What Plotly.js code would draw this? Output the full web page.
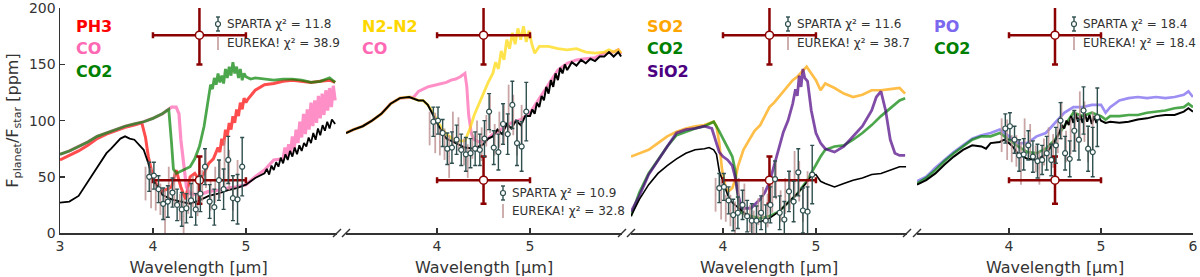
<!DOCTYPE html>
<html><head><meta charset="utf-8">
<script src="https://cdn.plot.ly/plotly-3.0.1.min.js"></script>
<style>html,body{margin:0;padding:0;background:#fff}#chart{width:1200px;height:277px}</style>
</head><body><div id="chart"></div>
<script>
// ---------- Panel 1 (PH3 / CO / CO2) ----------
const p1BlackX = [3.00,3.10,3.20,3.30,3.40,3.50,3.55,3.60,3.65,3.70,3.75,3.80,3.85,3.90,3.95,4.00,4.05,4.10,4.20,4.30,4.40,4.50,4.60,4.70,4.80,4.90,5.00,5.10,5.20,5.225,5.25,5.275,5.30,5.325,5.35,5.375,5.40,5.425,5.45,5.475,5.50,5.525,5.55,5.575,5.60,5.625,5.65,5.675,5.70,5.725,5.75,5.775,5.80,5.825,5.85,5.875,5.90,5.925,5.96];
const p1BlackY = [27,28,33,46,59,71,75,80,84,86,84,83,78,74,62,47,41,34,30,28,26,29,33,35,38,40,43,49,53,57,52,60,56,63,59,67,62,70,65,73,68,76,70,78,73,80,77,85,80,89,83,93,87,96,91,99,93,101,97];
const p1RedX = [3.00,3.10,3.20,3.30,3.40,3.50,3.60,3.70,3.80,3.88,3.92,3.95,4.00,4.05,4.10,4.15,4.20,4.25,4.30,4.35,4.40,4.45,4.50,4.55,4.60,4.65,4.70,4.72,4.74,4.76,4.78,4.80,4.82,4.84,4.86,4.88,4.90,4.92,4.94,4.96,4.98,5.00,5.02,5.10,5.20,5.30,5.40,5.50,5.60,5.70,5.80,5.90,5.96];
const p1RedY = [65,69,73,78,84,88,91,94,96,98,85,68,50,41,37,39,41,56,41,30,50,53,47,53,62,66,76,72,84,78,92,86,98,92,104,98,110,104,116,110,120,116,119,127,132,133,135,136,135,134,135,136,134];
const p1PinkX = [3.00,3.10,3.20,3.30,3.40,3.50,3.60,3.70,3.80,3.90,4.00,4.05,4.10,4.15,4.20,4.25,4.28,4.30,4.33,4.36,4.40,4.50,4.60,4.70,4.80,4.90,5.00,5.10,5.20,5.30,5.40,5.42,5.44,5.46,5.48,5.50,5.52,5.54,5.56,5.58,5.60,5.62,5.64,5.66,5.68,5.70,5.72,5.74,5.76,5.78,5.80,5.82,5.84,5.86,5.88,5.90,5.92,5.94,5.96];
const p1PinkY = [70,73,77,81,86,89,92,95,97,99,102,104,106,109,112,112,106,83,59,41,35,34,37,38,40,41,43,50,56,65,66,76,68,79,71,86,75,92,80,99,85,106,88,110,92,116,95,118,98,122,102,124,105,127,109,129,112,131,118];
const p1GreenX = [3.00,3.10,3.20,3.30,3.40,3.50,3.60,3.70,3.80,3.90,4.00,4.05,4.10,4.15,4.17,4.20,4.22,4.25,4.30,4.35,4.40,4.45,4.50,4.55,4.60,4.62,4.64,4.66,4.68,4.70,4.72,4.74,4.76,4.78,4.80,4.82,4.84,4.86,4.88,4.90,4.92,4.94,4.96,4.98,5.00,5.05,5.10,5.20,5.30,5.40,5.50,5.60,5.70,5.80,5.90,5.96];
const p1GreenY = [70,73,77,81,86,89,92,95,97,99,102,104,106,109,110,80,57,53,55,57,59,66,77,95,123,132,128,138,132,142,134,140,133,146,138,148,140,152,142,148,138,146,136,142,139,137,138,137,136,137,137,136,134,135,138,134];

// ---------- Panel 2 (N2-N2 / CO) ----------
const p2BlackX = [3.02,3.10,3.20,3.30,3.40,3.50,3.60,3.70,3.80,3.85,3.90,3.95,4.00,4.05,4.10,4.20,4.30,4.40,4.50,4.55,4.60,4.65,4.70,4.75,4.80,4.85,4.90,4.95,5.00,5.025,5.05,5.075,5.10,5.125,5.15,5.175,5.20,5.225,5.25,5.275,5.30,5.325,5.35,5.375,5.40,5.45,5.50,5.55,5.60,5.65,5.70,5.75,5.80,5.85,5.90,5.95,5.98];
const p2BlackY = [89,92,95,100,106,115,120,121,118,118,114,106,97,90,84,80,76,75,79,84,86,92,88,97,93,100,96,104,104,110,106,116,112,122,118,130,124,136,130,142,136,147,142,150,145,152,149,154,151,155,153,157,157,161,157,161,157];
const p2YellowX = [3.02,3.10,3.20,3.30,3.40,3.50,3.60,3.70,3.80,3.85,3.90,3.95,4.00,4.05,4.10,4.20,4.30,4.35,4.40,4.45,4.50,4.55,4.60,4.63,4.66,4.69,4.72,4.75,4.78,4.81,4.84,4.87,4.90,4.93,4.96,4.99,5.02,5.05,5.10,5.20,5.30,5.40,5.50,5.60,5.70,5.80,5.85,5.90,5.95,5.98];
const p2YellowY = [89,92,95,100,106,115,120,121,118,118,114,108,100,93,88,82,82,92,105,115,125,134,142,152,146,162,154,172,164,178,168,182,172,184,170,180,168,160,166,166,164,163,164,161,160,161,163,161,163,160];
const p2PinkX = [3.02,3.10,3.20,3.30,3.40,3.50,3.60,3.70,3.75,3.80,3.85,3.90,3.95,4.00,4.05,4.10,4.15,4.20,4.25,4.30,4.32,4.34,4.37,4.40,4.45,4.50,4.55,4.60,4.65,4.70,4.80,4.90,5.00,5.10,5.20,5.30,5.40,5.50,5.60,5.70,5.80,5.90,5.95,5.98];
const p2PinkY = [89,92,95,100,106,115,120,121,121,126,128,130,131,132,133,134,136,137,139,142,130,105,88,83,81,82,84,88,90,93,98,101,107,120,133,145,151,154,155,156,160,161,163,159];

// ---------- Panel 3 (SO2 / CO2 / SiO2) ----------
const p3BlackX = [3.01,3.10,3.20,3.30,3.40,3.50,3.60,3.70,3.80,3.85,3.90,3.93,3.96,4.00,4.05,4.10,4.20,4.30,4.40,4.50,4.60,4.70,4.80,4.90,4.95,5.00,5.05,5.10,5.20,5.30,5.40,5.50,5.60,5.70,5.80,5.90,5.97];
const p3BlackY = [15,30,43,53,60,66,71,74,75,76,74,70,55,45,34,27,20,13,10,13,19,27,35,45,51,52,46,44,41,44,47,49,52,53,56,59,59];
const p3OrangeX = [3.01,3.10,3.20,3.30,3.40,3.50,3.60,3.70,3.80,3.90,3.93,3.96,3.99,4.03,4.06,4.10,4.13,4.16,4.22,4.29,4.34,4.40,4.50,4.55,4.60,4.65,4.70,4.75,4.80,4.85,4.90,4.95,5.00,5.05,5.10,5.20,5.30,5.40,5.50,5.60,5.70,5.80,5.90,5.96];
const p3OrangeY = [68,71,74,80,86,90,93,95,96,99,95,80,56,40,37,40,47,59,74,84,91,96,112,116,121,126,130,136,139,144,148,142,136,127,133,129,124,121,123,127,127,128,129,124];
const p3GreenX = [3.01,3.10,3.20,3.30,3.40,3.50,3.60,3.70,3.80,3.90,3.95,4.00,4.05,4.10,4.13,4.16,4.20,4.30,4.40,4.50,4.60,4.70,4.80,4.90,5.00,5.05,5.10,5.20,5.30,5.40,5.50,5.60,5.70,5.80,5.90,5.96];
const p3GreenY = [15,36,53,65,77,87,90,93,95,99,92,84,76,68,56,32,18,15,13,15,19,27,35,46,61,68,74,77,78,83,89,96,104,111,118,120];
const p3PurpleX = [3.01,3.10,3.20,3.30,3.40,3.50,3.60,3.70,3.80,3.88,3.92,3.96,4.00,4.05,4.10,4.13,4.16,4.20,4.30,4.40,4.45,4.50,4.55,4.60,4.65,4.70,4.75,4.78,4.80,4.82,4.84,4.86,4.88,4.91,4.95,5.00,5.05,5.10,5.20,5.30,5.40,5.50,5.60,5.65,5.70,5.75,5.80,5.85,5.90,5.96];
const p3PurpleY = [19,33,52,65,77,89,92,93,95,93,82,72,68,65,60,50,35,22,22,30,36,45,60,76,90,100,115,128,122,140,130,146,138,135,109,89,80,75,72,77,86,95,109,121,126,109,83,71,69,69];

// ---------- Panel 4 (PO / CO2) ----------
const p4BlackX = [3.00,3.10,3.20,3.30,3.40,3.50,3.60,3.70,3.75,3.80,3.90,3.95,4.00,4.05,4.10,4.20,4.30,4.40,4.50,4.55,4.575,4.60,4.625,4.65,4.675,4.70,4.725,4.75,4.775,4.80,4.825,4.85,4.875,4.90,4.925,4.95,4.975,5.00,5.05,5.10,5.20,5.30,5.40,5.50,5.60,5.70,5.80,5.90,5.95,6.00];
const p4BlackY = [43,47,53,61,68,74,78,77,75,80,81,83,80,76,70,66,65,70,82,90,96,93,100,96,104,98,106,99,105,98,106,99,105,97,104,98,103,100,98,99,98,99,101,102,104,105,105,108,111,108];
const p4PurpleX = [3.00,3.10,3.20,3.30,3.40,3.50,3.60,3.70,3.80,3.90,4.00,4.10,4.20,4.30,4.40,4.50,4.60,4.70,4.80,4.90,5.00,5.05,5.10,5.20,5.30,5.40,5.50,5.60,5.70,5.80,5.90,5.95,6.00];
const p4PurpleY = [46,50,58,65,72,78,84,87,89,92,86,80,80,86,89,98,107,112,112,114,114,107,112,118,120,121,120,121,120,121,123,126,121];
const p4GreenX = [3.00,3.10,3.20,3.30,3.40,3.50,3.60,3.70,3.80,3.90,4.00,4.10,4.20,4.30,4.40,4.50,4.60,4.70,4.80,4.90,5.00,5.05,5.10,5.20,5.30,5.40,5.50,5.60,5.70,5.80,5.90,5.95,6.00];
const p4GreenY = [44,49,56,64,71,77,83,86,86,89,83,77,72,71,75,83,95,107,104,107,104,101,104,104,105,105,107,108,109,111,112,115,112];

// ---------- Observations (SPARTA / EUREKA!) per panel ----------
const spartaX = [3.96,4.01,4.06,4.11,4.16,4.21,4.26,4.31,4.36,4.41,4.46,4.51,4.56,4.61,4.66,4.71,4.76,4.81,4.86,4.91,4.96];
const spartaErr = [13,12,12,14,14,13,14,15,13,15,14,16,16,15,16,18,18,21,20,22,26];
const spartaY1 = [50,51,39,26,28,36,25,21,22,29,21,35,59,28,23,47,39,65,31,30,59];
const spartaY2 = [99,100,89,75,76,83,74,70,71,75,74,84,108,76,72,97,88,114,80,77,108];
const spartaY3 = [40,41,29,16,18,25,15,11,11,18,11,25,48,18,12,37,28,54,20,19,52];
const spartaY4 = [93,95,83,69,70,78,68,64,65,71,65,78,100,71,66,91,83,109,75,72,103];

const eurekaX = [3.92,3.98,4.03,4.08,4.13,4.17,4.23,4.29,4.33,4.38,4.43,4.48,4.53,4.57,4.62,4.67,4.72,4.77,4.82,4.86,4.91];
const eurekaErr = [15,18,12,14,19,15,15,12,15,12,14,15,14,17,14,16,17,21,18,15,18];
const eurekaY1 = [44,40,32,30,19,44,39,23,15,29,37,30,42,57,34,43,48,62,56,35,47];
const eurekaY2 = [93,89,81,79,68,93,88,72,64,78,86,79,91,106,83,92,97,111,105,84,96];
const eurekaY3 = [34,30,22,20,9,34,29,13,5,19,27,20,32,47,24,33,38,52,46,25,37];
const eurekaY4 = [87,83,75,73,62,87,82,66,58,72,80,73,85,100,77,86,91,105,99,78,90];

// big reference crosses (same in every panel)
const crossX = [4.5, 4.5];
const crossY = [176, 47];
const crossXErr = [0.5, 0.5];
const crossYErr = [26, 21];

const chiSparta = [11.8, 10.9, 11.6, 18.4];
const chiEureka = [38.9, 32.8, 38.7, 18.4];

const speciesLabels = [
  [["PH3","red"],["CO","hotpink"],["CO2","green"]],
  [["N2-N2","gold"],["CO","hotpink"]],
  [["SO2","orange"],["CO2","green"],["SiO2","indigo"]],
  [["PO","mediumslateblue"],["CO2","green"]]
];

// ---------- styling ----------
const L = 60, R = 7, T = 8, B = 44, W = 1200, H = 277;
const PW = W - L - R, PH = H - T - B;
const px2x = p => (p - L) / PW;
const py2y = p => (H - B - p) / PH;
const panelPx = [[60,337],[346,622],[631,907],[917,1193]];
const panelRange = [[3.0,5.98],[3.02,5.99],[3.01,5.98],[3.0,6.0]];
const panelTicks = [[3,4,5],[4,5],[4,5],[4,5,6]];

const col = {
  black: '#000000',
  red: 'rgba(255,0,0,0.7)',
  pink: 'rgba(255,105,180,0.75)',
  green: 'rgba(0,128,0,0.7)',
  gold: 'rgba(255,215,0,0.7)',
  orange: 'rgba(255,165,0,0.72)',
  indigo: 'rgba(75,0,130,0.7)',
  po: 'rgba(123,104,238,0.75)'
};
const SP = '#2f4f4f', EU = 'rgba(188,143,143,0.8)', DR = '#8b0000';

const traces = [];
function line(x, y, color, ax, w) {
  traces.push({x, y, type: 'scatter', mode: 'lines', xaxis: ax, yaxis: 'y',
    line: {color, width: w || 2.7}, hoverinfo: 'skip', showlegend: false});
}
function obs(ax, ey, sy) {
  traces.push({x: eurekaX, y: ey, type: 'scatter', mode: 'markers', xaxis: ax, yaxis: 'y',
    marker: {size: 1, color: EU},
    error_y: {type: 'data', array: eurekaErr, color: EU, thickness: 1.8, width: 0},
    showlegend: false, hoverinfo: 'skip'});
  traces.push({x: crossX, y: crossY, type: 'scatter', mode: 'markers', xaxis: ax, yaxis: 'y',
    marker: {size: 8, color: 'white', line: {color: DR, width: 1.5}},
    error_x: {type: 'data', array: crossXErr, color: DR, thickness: 2.5, width: 3},
    error_y: {type: 'data', array: crossYErr, color: DR, thickness: 2.5, width: 3},
    showlegend: false, hoverinfo: 'skip'});
  traces.push({x: spartaX, y: sy, type: 'scatter', mode: 'markers', xaxis: ax, yaxis: 'y',
    marker: {size: 5, color: 'white', line: {color: SP, width: 1.2}},
    error_y: {type: 'data', array: spartaErr, color: SP, thickness: 1.4, width: 2},
    showlegend: false, hoverinfo: 'skip'});
}

// panel 1
line(p1RedX, p1RedY, col.red, 'x', 3);
line(p1PinkX, p1PinkY, col.pink, 'x', 3.2);
line(p1GreenX, p1GreenY, col.green, 'x', 2.8);
line(p1BlackX, p1BlackY, col.black, 'x', 1.8);
obs('x', eurekaY1, spartaY1);
// panel 2
line(p2PinkX, p2PinkY, col.pink, 'x2', 3);
line(p2YellowX, p2YellowY, col.gold, 'x2', 2.8);
line(p2BlackX, p2BlackY, col.black, 'x2', 2);
obs('x2', eurekaY2, spartaY2);
// panel 3
line(p3OrangeX, p3OrangeY, col.orange, 'x3');
line(p3GreenX, p3GreenY, col.green, 'x3');
line(p3PurpleX, p3PurpleY, col.indigo, 'x3', 2.8);
line(p3BlackX, p3BlackY, col.black, 'x3', 1.6);
obs('x3', eurekaY3, spartaY3);
// panel 4
line(p4PurpleX, p4PurpleY, col.po, 'x4');
line(p4GreenX, p4GreenY, col.green, 'x4');
line(p4BlackX, p4BlackY, col.black, 'x4', 2);
obs('x4', eurekaY4, spartaY4);

const axColor = '#333333';
const layout = {
  width: W, height: H,
  margin: {l: L, r: R, t: T, b: B, pad: 0},
  paper_bgcolor: 'white', plot_bgcolor: 'rgba(0,0,0,0)',
  font: {family: 'DejaVu Sans', color: axColor, size: 14},
  showlegend: false,
  yaxis: {range: [0, 200.2], anchor: 'x', domain: [0, 1], tickvals: [0,50,100,150,200],
    ticks: 'inside', ticklen: 5, tickwidth: 1.5, tickcolor: axColor,
    showline: true, linecolor: axColor, linewidth: 1.5, showgrid: false, zeroline: false,
    tickfont: {size: 14, color: axColor}, ticklabeloverflow: 'allow',
    title: {text: 'F<sub>planet</sub>/F<sub>star</sub> [ppm]', font: {size: 16, color: axColor}, standoff: 6}},
  shapes: [], annotations: []
};
['x','x2','x3','x4'].forEach((ax, i) => {
  const key = i === 0 ? 'xaxis' : 'xaxis' + (i + 1);
  layout[key] = {
    domain: [px2x(panelPx[i][0]), px2x(panelPx[i][1])], range: panelRange[i], anchor: 'y',
    tickvals: panelTicks[i], ticktext: panelTicks[i].map(String),
    ticks: 'inside', ticklen: 5, tickwidth: 1.5, tickcolor: axColor,
    showline: true, linecolor: axColor, linewidth: 1.5, showgrid: false, zeroline: false,
    tickfont: {size: 14, color: axColor},
    title: {text: 'Wavelength [μm]', font: {size: 16, color: axColor}, standoff: 8}
  };
});

// axis-break markers
const breaks = [337, 346, 622, 631, 907, 917];
breaks.forEach(bx => {
  layout.shapes.push({type: 'line', xref: 'paper', yref: 'paper',
    x0: px2x(bx - 4), y0: py2y(237), x1: px2x(bx + 4), y1: py2y(229),
    line: {color: axColor, width: 1.5}});
});

// species labels
const labelLeft = [74, 360, 645, 932];
const labelY = [27, 49, 71];
speciesLabels.forEach((labs, i) => {
  labs.forEach((lab, j) => {
    layout.annotations.push({xref: 'paper', yref: 'paper', x: px2x(labelLeft[i]), y: py2y(labelY[j]),
      xanchor: 'left', yanchor: 'middle', showarrow: false,
      text: '<b>' + lab[0] + '</b>', font: {size: 16, color: lab[1]}});
  });
});

// observation legends
const legIcon = [218, 503, 788, 1074];
const legRow = [[24, 43], [193, 211], [24, 43], [24, 43]];
for (let i = 0; i < 4; i++) {
  const ix = legIcon[i], r = legRow[i];
  layout.shapes.push({type: 'line', xref: 'paper', yref: 'paper', x0: px2x(ix), x1: px2x(ix),
    y0: py2y(r[0] - 7), y1: py2y(r[0] + 7), line: {color: SP, width: 1.4}});
  [r[0] - 7, r[0] + 7].forEach(cy => layout.shapes.push({type: 'line', xref: 'paper', yref: 'paper',
    x0: px2x(ix - 2), x1: px2x(ix + 2), y0: py2y(cy), y1: py2y(cy), line: {color: SP, width: 1.4}}));
  layout.shapes.push({type: 'circle', xref: 'paper', yref: 'paper',
    x0: px2x(ix - 2.5), x1: px2x(ix + 2.5), y0: py2y(r[0] + 2.5), y1: py2y(r[0] - 2.5),
    fillcolor: 'white', line: {color: SP, width: 1.2}});
  layout.shapes.push({type: 'line', xref: 'paper', yref: 'paper', x0: px2x(ix), x1: px2x(ix),
    y0: py2y(r[1] - 7), y1: py2y(r[1] + 7), line: {color: EU, width: 1.8}});
  layout.annotations.push({xref: 'paper', yref: 'paper', x: px2x(ix + 7), y: py2y(r[0]),
    xanchor: 'left', yanchor: 'middle', showarrow: false,
    text: 'SPARTA χ² = ' + chiSparta[i].toFixed(1), font: {size: 12, color: axColor}});
  layout.annotations.push({xref: 'paper', yref: 'paper', x: px2x(ix + 7), y: py2y(r[1]),
    xanchor: 'left', yanchor: 'middle', showarrow: false,
    text: 'EUREKA! χ² = ' + chiEureka[i].toFixed(1), font: {size: 12, color: axColor}});
}

Plotly.newPlot('chart', traces, layout, {displayModeBar: false, staticPlot: true});
</script></body></html>
